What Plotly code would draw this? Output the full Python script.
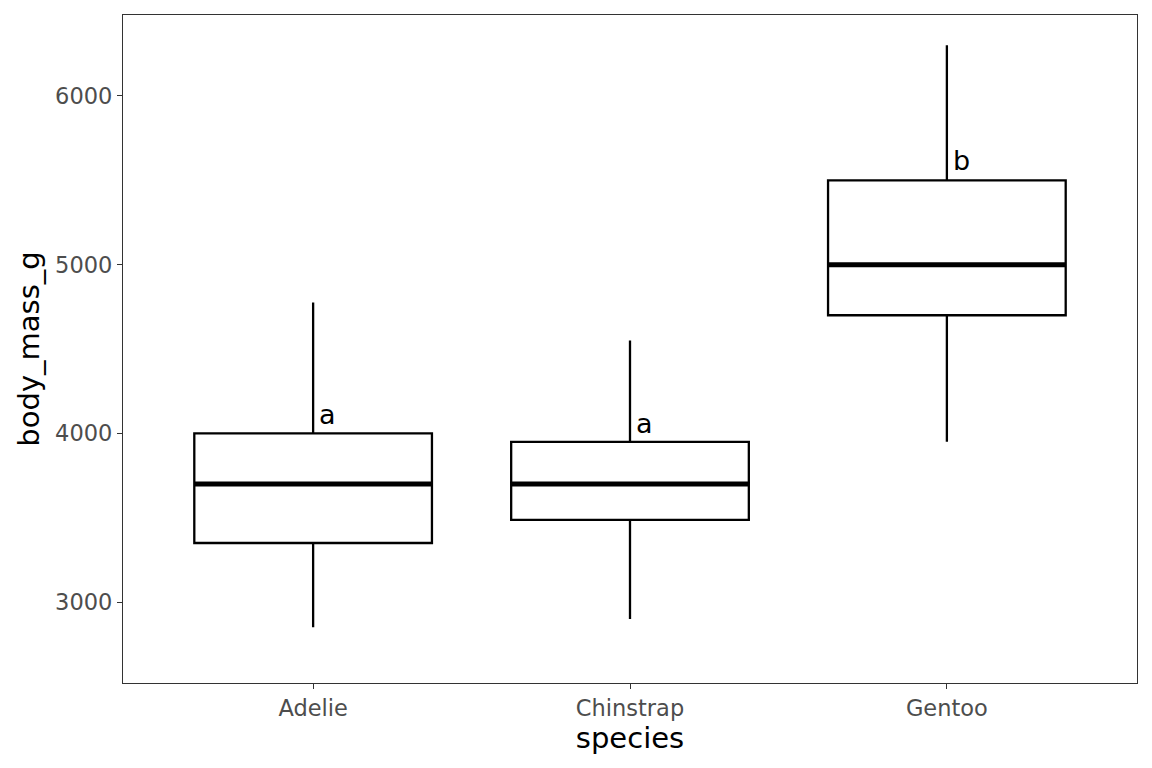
import plotly.graph_objects as go

species = ["Adelie", "Chinstrap", "Gentoo"]
lower_whisker = [2850, 2900, 3950]
q1 = [3350, 3487.5, 4700]
median = [3700, 3700, 5000]
q3 = [4000, 3950, 5500]
upper_whisker = [4775, 4550, 6300]
group_letters = ["a", "a", "b"]
letter_y = [4110, 4060, 5615]
y_ticks = [3000, 4000, 5000, 6000]
y_range = [2520, 6480]

BOX_W = 0.75
FONT = "DejaVu Sans"

fig = go.Figure()
for i, sp in enumerate(species):
    fig.add_trace(go.Box(
        x=[i], q1=[q1[i]], median=[median[i]], q3=[q3[i]],
        lowerfence=[lower_whisker[i]], upperfence=[upper_whisker[i]],
        width=BOX_W, whiskerwidth=0, fillcolor="white",
        line=dict(color="black", width=2.3),
        boxpoints=False, showlegend=False, name=sp, hoverinfo="skip",
    ))
    fig.add_trace(go.Scatter(
        x=[i - BOX_W / 2, i + BOX_W / 2], y=[median[i], median[i]],
        mode="lines", line=dict(color="black", width=5),
        showlegend=False, hoverinfo="skip",
    ))
    fig.add_annotation(
        x=i + 0.012, y=letter_y[i], text=group_letters[i], showarrow=False,
        xanchor="left", yanchor="middle",
        font=dict(family=FONT, size=27, color="black"),
    )

fig.update_layout(
    width=1152, height=768,
    margin=dict(l=123, r=15, t=15, b=85),
    paper_bgcolor="white", plot_bgcolor="white",
    font=dict(family=FONT),
    xaxis=dict(
        range=[-0.6, 2.6], tickmode="array", tickvals=list(range(len(species))),
        ticktext=species, showgrid=False, zeroline=False,
        showline=True, mirror=True, linecolor="#333333", linewidth=1.3,
        ticks="outside", ticklen=5, tickwidth=1.3, tickcolor="#333333",
        tickfont=dict(family=FONT, size=22.5, color="#4D4D4D"),
        title=dict(text="species", font=dict(family=FONT, size=29, color="black"), standoff=4),
    ),
    yaxis=dict(
        range=y_range, tickmode="array", tickvals=y_ticks,
        ticktext=[str(v) for v in y_ticks], showgrid=False, zeroline=False,
        showline=True, mirror=True, linecolor="#333333", linewidth=1.3,
        ticks="outside", ticklen=5, tickwidth=1.3, tickcolor="#333333",
        tickfont=dict(family=FONT, size=22.5, color="#4D4D4D"),
        title=dict(text="body_mass_g", font=dict(family=FONT, size=29, color="black"), standoff=6),
    ),
)

fig.write_html("out.html")
